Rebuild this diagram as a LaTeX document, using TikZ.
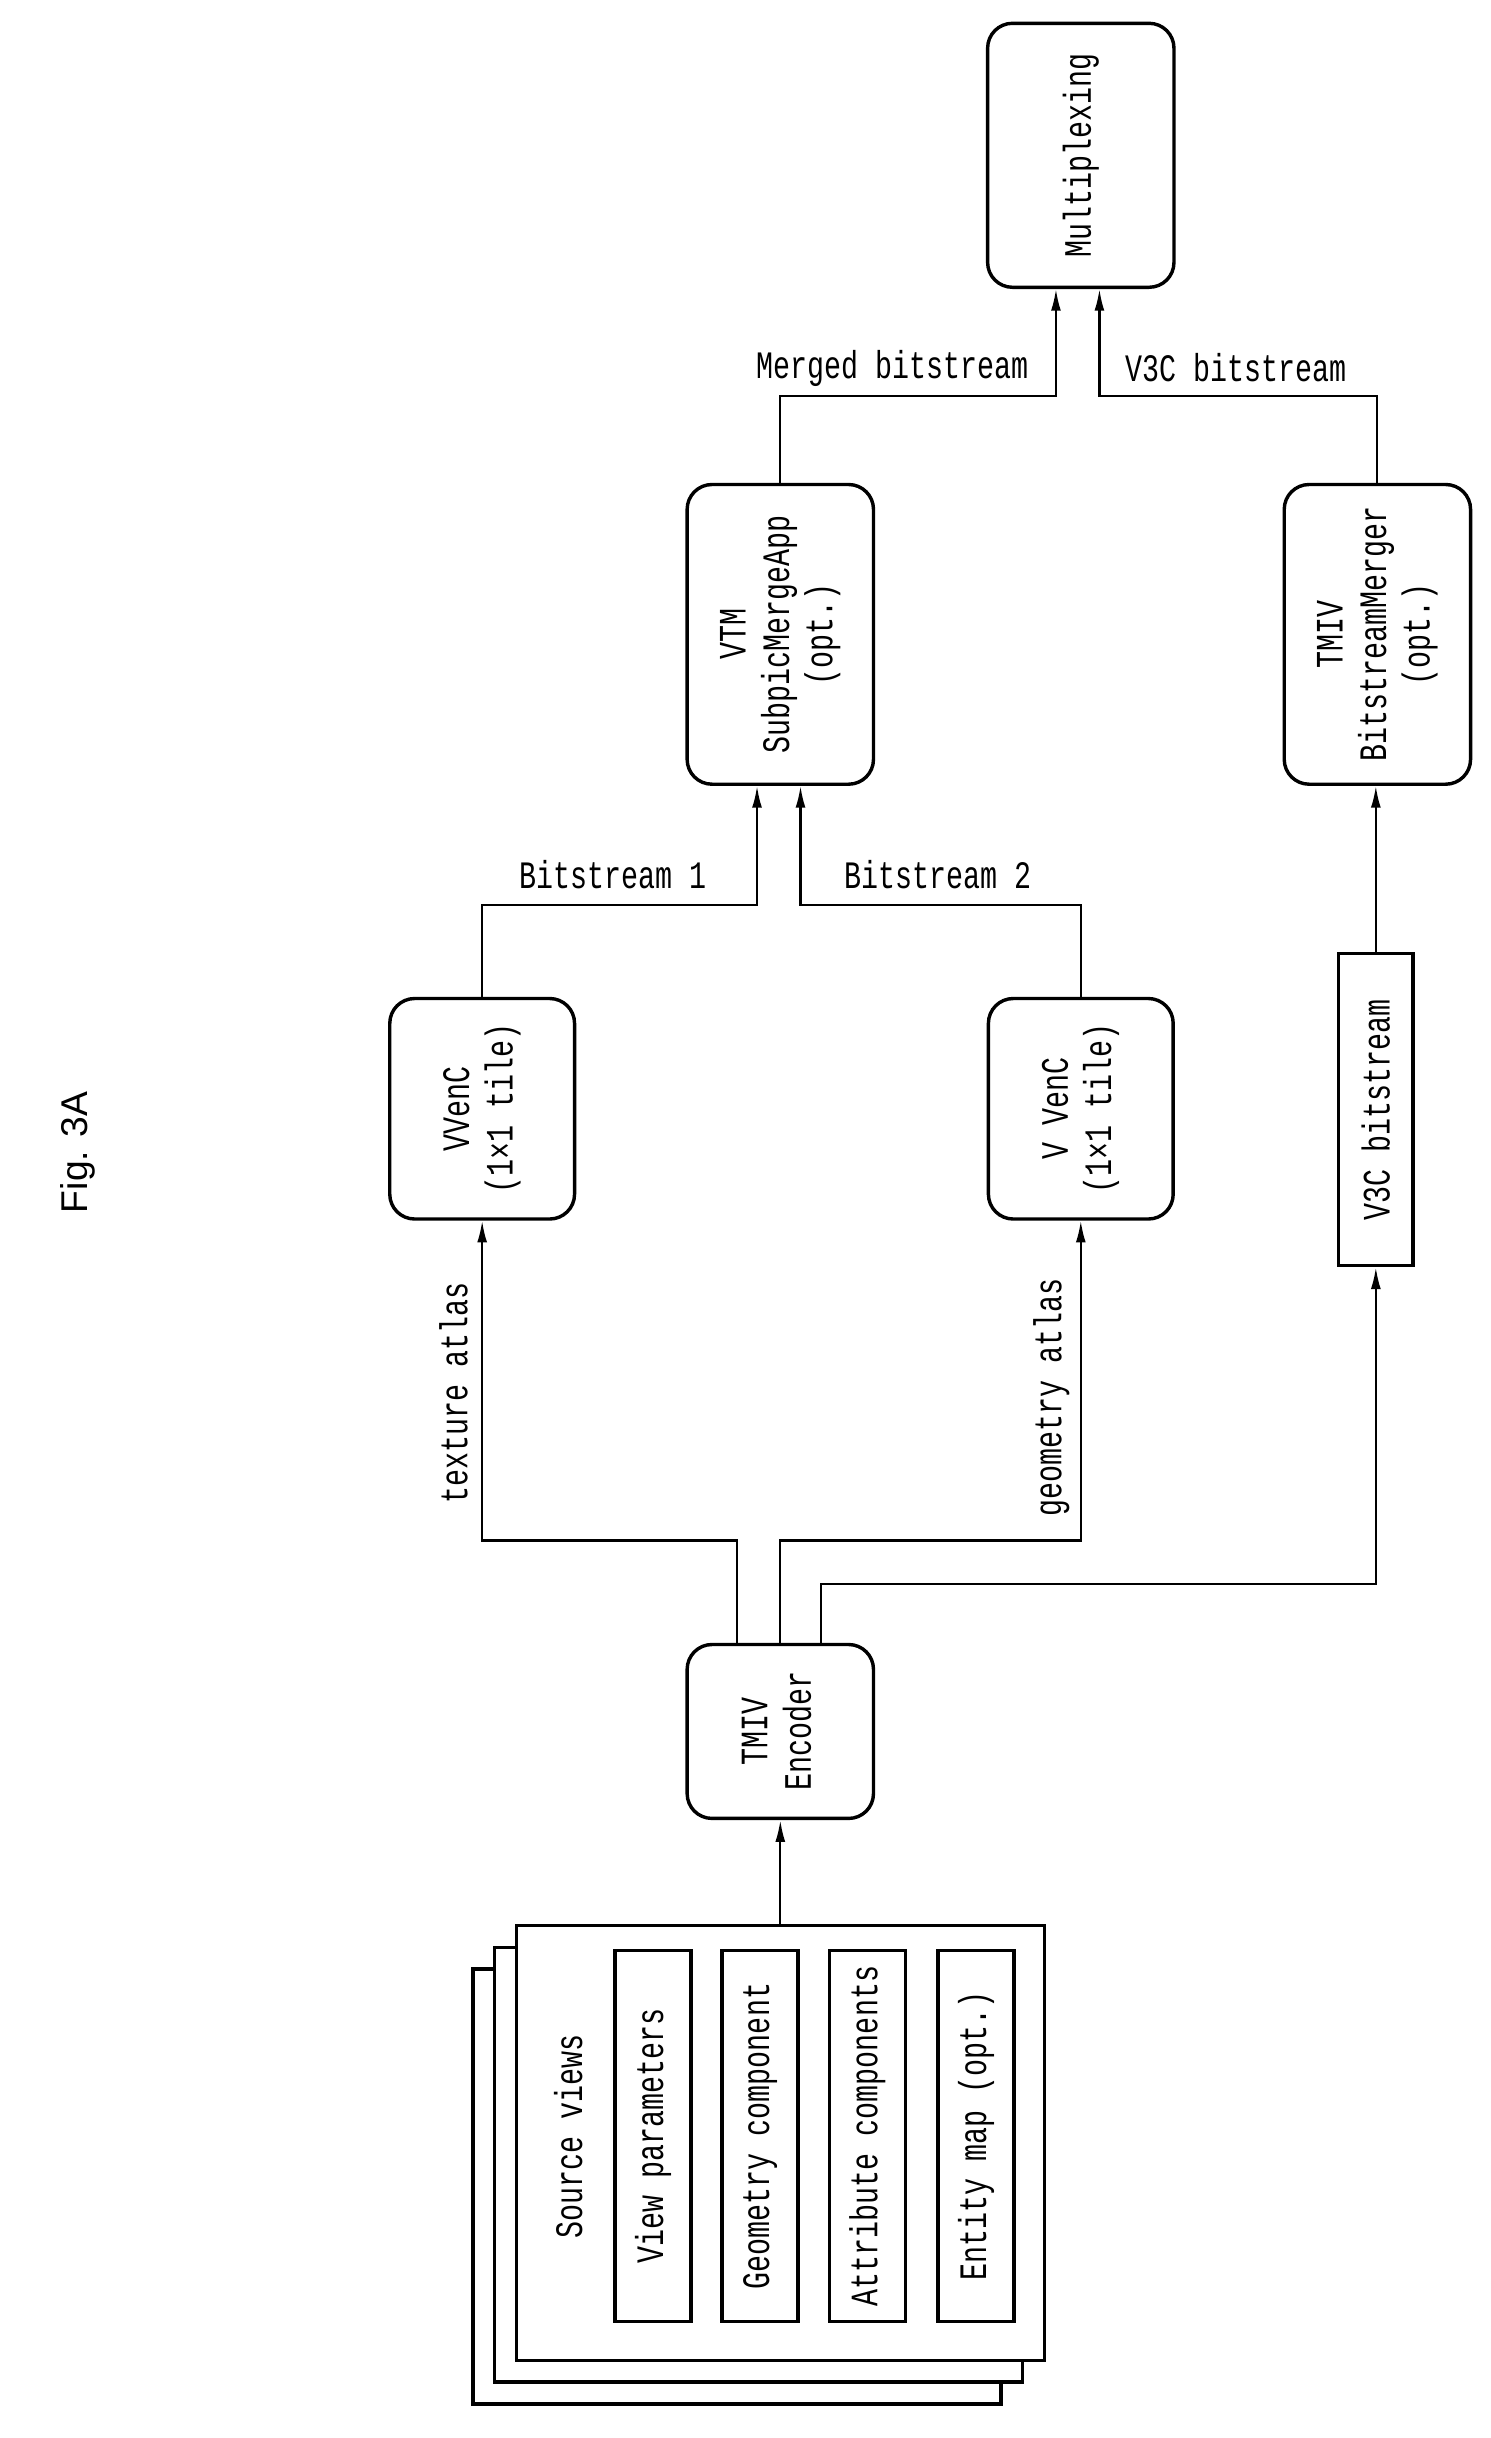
\documentclass[tikz,border=0pt]{standalone}
\usepackage{fontspec}
\setmainfont{Liberation Sans}
\newfontfamily\cond[FakeStretch=0.73]{Liberation Mono}
\usetikzlibrary{arrows.meta}
\begin{document}
\begin{tikzpicture}[x=0.5pt,y=-0.5pt,
  box/.style={draw,line width=1.1pt,rounded corners=8pt,inner sep=0pt,align=center},
  sq/.style={draw,line width=1.1pt,inner sep=0pt,fill=white},
  txt/.style={font=\cond\fontsize{12.5}{14}\selectfont},
  arr/.style={line width=0.7pt,-{Latex[length=7pt,width=3.2pt]}},
  ln/.style={line width=0.7pt}]
\useasboundingbox (0,0) rectangle (960,1570);
\node[font=\fontsize{12}{14}\selectfont,rotate=90] (fig) at (50,742) {Fig. 3A};
\node[box,txt,minimum width=60pt,minimum height=85pt] (mux) at (696,100) {\rotatebox{90}{Multiplexing}};
\node[box,txt,minimum width=60pt,minimum height=96.5pt] (vtm) at (502.5,408.5) {\rotatebox{90}{\begin{tabular}{@{}c@{}}VTM\\SubpicMergeApp\\(opt.)\end{tabular}}};
\node[box,txt,minimum width=60pt,minimum height=96.5pt] (tbm) at (887,408.5) {\rotatebox{90}{\begin{tabular}{@{}c@{}}TMIV\\BitstreamMerger\\(opt.)\end{tabular}}};
\node[box,txt,minimum width=59.5pt,minimum height=71pt] (vv1) at (310.5,714) {\rotatebox{90}{\begin{tabular}{@{}c@{}}VVenC\\(1×1 tile)\end{tabular}}};
\node[box,txt,minimum width=59.5pt,minimum height=71pt] (vv2) at (696,714) {\rotatebox{90}{\begin{tabular}{@{}c@{}}V VenC\\(1×1 tile)\end{tabular}}};
\node[sq,txt,minimum width=24pt,minimum height=100.5pt] (v3c) at (886,714.5) {\rotatebox{90}{V3C bitstream}};
\node[box,txt,minimum width=60pt,minimum height=56pt] (enc) at (502.5,1115) {\rotatebox{90}{\begin{tabular}{@{}c@{}}TMIV\\Encoder\end{tabular}}};
\node[sq,minimum width=170pt,minimum height=140pt] (s3) at (474.5,1408) {};
\node[sq,minimum width=170pt,minimum height=140pt] (s2) at (488.5,1394) {};
\node[sq,minimum width=170pt,minimum height=140pt] (src) at (502.5,1380) {};
\node[txt,rotate=90] (sv) at (366,1376) {Source views};
\node[sq,txt,minimum width=24.5pt,minimum height=119.5pt] (r1) at (420.5,1375.5) {\rotatebox{90}{View parameters}};
\node[sq,txt,minimum width=24.5pt,minimum height=119.5pt] (r2) at (489.5,1375.5) {\rotatebox{90}{Geometry component}};
\node[sq,txt,minimum width=24.5pt,minimum height=119.5pt] (r3) at (558.5,1375.5) {\rotatebox{90}{Attribute components}};
\node[sq,txt,minimum width=24.5pt,minimum height=119.5pt] (r4) at (628.5,1375.5) {\rotatebox{90}{Entity map (opt.)}};
% labels
\node[txt] (lm) at (575,237) {Merged bitstream};
\node[txt] (lv) at (796,237) {V3C bitstream};
\node[txt] (lb1) at (395,563) {Bitstream 1};
\node[txt] (lb2) at (604,563) {Bitstream 2};
\node[txt,rotate=90] (lt) at (292,897) {texture atlas};
\node[txt,rotate=90] (lg) at (677,900) {geometry atlas};
% helper levels
\coordinate (h1) at (0,255);
\coordinate (h2) at (0,583);
\coordinate (h3) at (0,992);
\coordinate (h4) at (0,1020);
% connectors
\draw[arr] (vtm.north) -- (vtm.north |- h1) -| ([xshift=-8pt]mux.south);
\draw[arr] (tbm.north) -- (tbm.north |- h1) -| ([xshift=6pt]mux.south);
\draw[arr] (vv1.north) -- (vv1.north |- h2) -| ([xshift=-7.5pt]vtm.south);
\draw[arr] (vv2.north) -- (vv2.north |- h2) -| ([xshift=6.5pt]vtm.south);
\draw[arr] (v3c.north) -- (v3c.north |- tbm.south);
\coordinate (e1) at ([xshift=-14pt]enc.north);
\coordinate (e3) at ([xshift=13pt]enc.north);
\draw[arr] (e1) -- (e1 |- h3) -| (vv1.south);
\draw[arr] (enc.north) -- (enc.north |- h3) -| (vv2.south);
\draw[arr] (e3) -- (e3 |- h4) -| (v3c.south);
\draw[arr] (src.north) -- (enc.south);
\end{tikzpicture}
\end{document}
